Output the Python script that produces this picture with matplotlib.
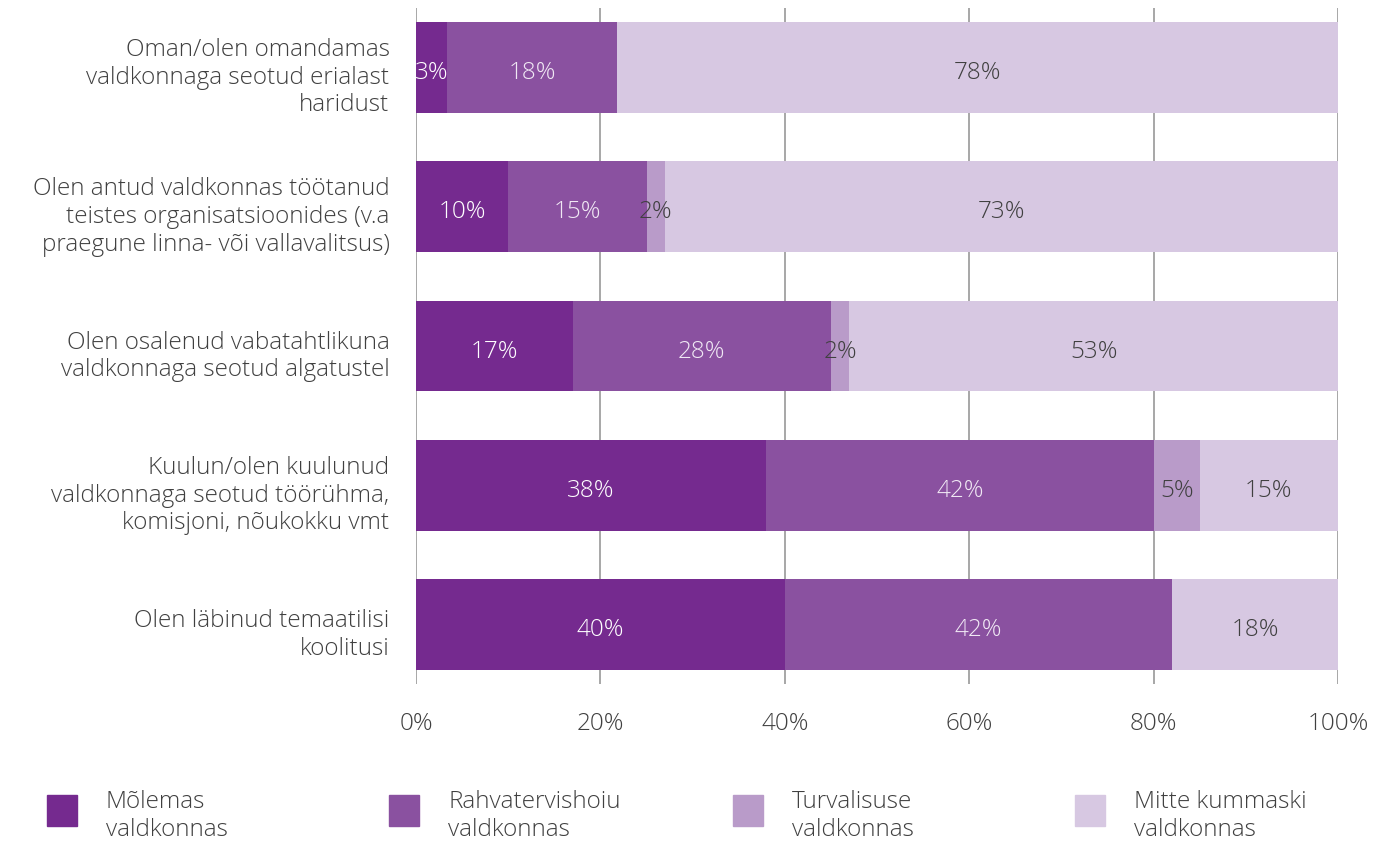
import numpy as np
import matplotlib.pyplot as plt
from matplotlib.patches import Rectangle
from matplotlib.transforms import ScaledTranslation

plt.rcParams['font.family'] = ['Open Sans', 'DejaVu Sans']
plt.rcParams['font.weight'] = 'light'

# Andmed
kategooriad = [
    'Oman/olen omandamas\nvaldkonnaga seotud erialast\nharidust',
    'Olen antud valdkonnas töötanud\nteistes organisatsioonides (v.a\npraegune linna- või vallavalitsus)',
    'Olen osalenud vabatahtlikuna\nvaldkonnaga seotud algatustel',
    'Kuulun/olen kuulunud\nvaldkonnaga seotud töörühma,\nkomisjoni, nõukokku vmt',
    'Olen läbinud temaatilisi\nkoolitusi',
]
molemas = [3.4, 10, 17, 38, 40]
rahvatervis = [18.4, 15, 28, 42, 42]
turvalisus = [0, 2, 2, 5, 0]
mitte = [78.2, 73, 53, 15, 18]

seeriad = ['Mõlemas\nvaldkonnas', 'Rahvatervishoiu\nvaldkonnas',
           'Turvalisuse\nvaldkonnas', 'Mitte kummaski\nvaldkonnas']
varvid = ['#752a8f', '#8a51a0', '#b99bc9', '#d7c8e2']
silt_varvid = ['white', '#f0e8f4', '#404040', '#404040']

tekst = '#404040'
fs = 17.5

fig = plt.figure(figsize=(13.86, 8.43), dpi=100)
ax = fig.add_axes([416 / 1386, 1 - 684 / 843, 922 / 1386, 676 / 843])
nihe = ScaledTranslation(0, -4 / 72, fig.dpi_scale_trans)

y = np.arange(len(kategooriad))
vasak = np.zeros(len(kategooriad))
for vals, col, lcol in zip([molemas, rahvatervis, turvalisus, mitte], varvid, silt_varvid):
    vals = np.array(vals, dtype=float)
    bars = ax.barh(y, vals, left=vasak, height=0.653, color=col, zorder=2)
    for b, v in zip(bars, vals):
        if v > 0:
            ax.text(b.get_x() + b.get_width() / 2, b.get_y() + b.get_height() / 2,
                    f'{v:.0f}%', ha='center', va='center', color=lcol,
                    fontsize=fs, zorder=3, transform=ax.transData + nihe)
    vasak += vals

ax.set_xlim(0, 100)
ax.set_ylim(4.427, -0.427)
ax.set_xticks(np.arange(0, 101, 20))
ax.set_xticklabels([f'{t}%' for t in range(0, 101, 20)])
ax.set_yticks(y)
ax.set_yticklabels(kategooriad)
ax.tick_params(axis='both', length=0, labelsize=fs, labelcolor=tekst)
ax.tick_params(axis='x', pad=20)
ax.tick_params(axis='y', pad=19)
for lbl in ax.get_yticklabels():
    lbl.set_horizontalalignment('right')
    lbl.set_multialignment('right')
    lbl.set_linespacing(1.2)
    lbl.set_transform(lbl.get_transform() + nihe)
ax.grid(axis='x', color='#a0a0a0', linewidth=1.3, zorder=0)
ax.set_axisbelow(True)
for s in ax.spines.values():
    s.set_visible(False)

# Legend all
kast_x = [47, 389, 733, 1075]
for i, (nimi, col) in enumerate(zip(seeriad, varvid)):
    x0 = kast_x[i] / 1386
    fig.patches.append(Rectangle((x0, 1 - 826 / 843), 30 / 1386, 31 / 843,
                                 transform=fig.transFigure, color=col))
    fig.text(x0 + 59 / 1386, 1 - 816 / 843, nimi, fontsize=fs, color=tekst,
             va='center', ha='left', linespacing=1.2)

fig.savefig('out.png', dpi=100)
